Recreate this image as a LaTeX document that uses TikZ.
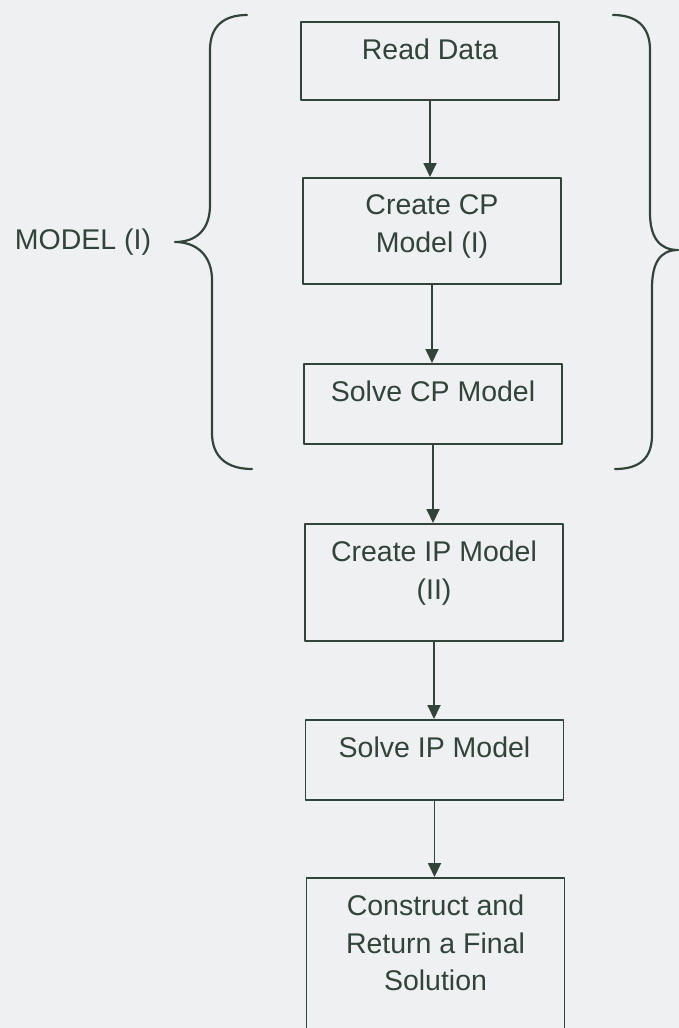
\documentclass[tikz,border=0pt]{standalone}
\usepackage{fontspec}
\setmainfont{Liberation Sans}
\usetikzlibrary{arrows.meta}
\definecolor{ink}{RGB}{50,68,58}
\definecolor{paper}{RGB}{239,240,242}
% box contents: fixed-height parbox, text hung from the top edge
\newcommand\toptext[2]{\parbox[c][#1pt][t]{258pt}{\centering\vspace*{17pt}#2\par}}
\begin{document}
\begin{tikzpicture}[x=1pt,y=-1pt,line join=round,
  stepbox/.style={draw=ink,line width=1.8pt,inner sep=0pt,anchor=north,text=ink,
    font=\fontsize{28.5}{37.5}\selectfont},
  flow/.style={draw=ink,line width=1.8pt,-{Triangle[length=14pt,width=13pt]}},
  brace/.style={draw=ink,line width=2.2pt,line cap=round},
  side/.style={text=ink,font=\fontsize{28.5}{34}\selectfont,inner sep=0pt}]
\useasboundingbox (0,0) rectangle (679,1028);
\fill[paper] (0,0) rectangle (679,1028);

% flow steps
\node[stepbox] (rd)  at (430,21)    {\toptext{78}{Read Data}};
\node[stepbox] (ccp) at (432,177)   {\toptext{106}{Create CP\\Model (I)}};
\node[stepbox] (scp) at (433,363)   {\toptext{80}{Solve CP Model}};
\node[stepbox] (cip) at (434,523)   {\toptext{117}{Create IP Model\\(II)}};
\node[stepbox] (sip) at (434.5,719) {\toptext{80}{Solve IP Model}};
\node[stepbox] (fin) at (435.5,877) {\toptext{200}{Construct and\\Return a Final\\Solution}};

% connectors
\draw[flow] (rd.south)  -- (rd.south |- ccp.north);
\draw[flow] (ccp.south) -- (ccp.south |- scp.north);
\draw[flow] (scp.south) -- (scp.south |- cip.north);
\draw[flow] (cip.south) -- (cip.south |- sip.north);
\draw[flow] (sip.south) -- (sip.south |- fin.north);

% grouping braces around the first model
\node[side] (model) at (83,242.5) {MODEL (I)};
\draw[brace] (247,15) .. controls (224,15) and (210,26) .. (210,50)
  -- (210,205) .. controls (210,230) and (196,242) .. (175,242)
  .. controls (196,242) and (212,255) .. (212,280)
  -- (212,433) .. controls (212,457) and (227,469) .. (252,469);
\draw[brace] (613,15) .. controls (636,15) and (650,26) .. (650,50)
  -- (650,213) .. controls (650,238) and (660,250) .. (678,250)
  .. controls (660,250) and (652,263) .. (652,288)
  -- (652,435) .. controls (652,458) and (640,469) .. (615,469);
\end{tikzpicture}
\end{document}
